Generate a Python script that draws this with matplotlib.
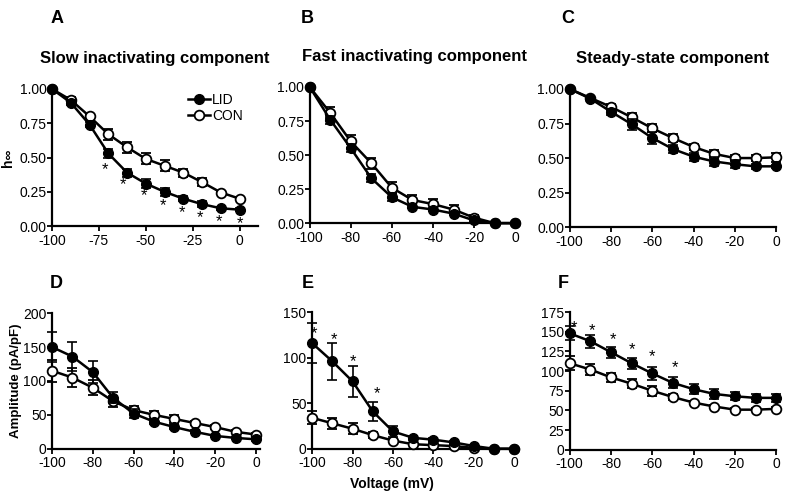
import matplotlib.pyplot as plt
from matplotlib.lines import Line2D

plt.rcParams['font.family'] = ['Liberation Sans', 'DejaVu Sans']
plt.rcParams['axes.unicode_minus'] = False

voltage = [-100, -90, -80, -70, -60, -50, -40, -30, -20, -10, 0]

# A - slow inactivating component
a_lid = [1.00, 0.90, 0.74, 0.53, 0.39, 0.31, 0.25, 0.20, 0.16, 0.13, 0.12]
a_lid_err = [0.0, 0.02, 0.02, 0.03, 0.03, 0.03, 0.03, 0.02, 0.02, 0.01, 0.01]
a_con = [1.00, 0.92, 0.80, 0.67, 0.575, 0.49, 0.44, 0.39, 0.32, 0.245, 0.20]
a_con_err = [0.0, 0.02, 0.02, 0.04, 0.04, 0.04, 0.04, 0.03, 0.03, 0.01, 0.01]
a_star_x = [-72, -62, -51, -41, -31, -21, -11, 0]
a_star_y = [0.41, 0.30, 0.22, 0.15, 0.10, 0.06, 0.03, 0.02]

# B - fast inactivating component
b_lid = [1.00, 0.76, 0.55, 0.33, 0.19, 0.12, 0.10, 0.07, 0.02, 0.00, 0.00]
b_lid_err = [0.0, 0.03, 0.03, 0.03, 0.03, 0.01, 0.01, 0.01, 0.01, 0.0, 0.0]
b_con = [1.00, 0.81, 0.60, 0.44, 0.26, 0.17, 0.14, 0.10, 0.04, 0.00, 0.00]
b_con_err = [0.0, 0.04, 0.05, 0.04, 0.04, 0.04, 0.04, 0.03, 0.02, 0.0, 0.0]

# C - steady-state component
c_lid = [1.00, 0.93, 0.835, 0.745, 0.645, 0.565, 0.51, 0.475, 0.455, 0.44, 0.44]
c_lid_err = [0.0, 0.01, 0.02, 0.04, 0.04, 0.03, 0.03, 0.03, 0.03, 0.02, 0.01]
c_con = [1.00, 0.935, 0.87, 0.795, 0.715, 0.645, 0.58, 0.53, 0.50, 0.50, 0.505]
c_con_err = [0.0, 0.01, 0.02, 0.03, 0.03, 0.03, 0.02, 0.03, 0.02, 0.02, 0.03]

# D - amplitude, slow
d_lid = [150, 136, 113, 75, 52, 40, 32, 25, 19, 16, 14]
d_lid_err = [22, 21, 16, 8, 6, 3, 3, 2, 2, 2, 2]
d_con = [115, 105, 90, 70, 57, 50, 44, 38, 32, 25, 21]
d_con_err = [16, 14, 11, 8, 6, 6, 6, 3, 3, 2, 2]

# E - amplitude, fast
e_lid = [116, 96, 74, 41, 19, 12, 10, 7, 3, 0, 0]
e_lid_err = [22, 20, 17, 10, 6, 2, 2, 2, 1, 0, 0]
e_con = [34, 28, 22, 15, 9, 5, 4, 3, 1, 0, 0]
e_con_err = [7, 6, 6, 3, 2, 1, 1, 1, 1, 0, 0]
e_star_x = [-99, -89, -80, -68]
e_star_y = [126, 120, 96, 61]

# F - amplitude, steady-state
f_lid = [148, 138, 124, 110, 97, 85, 77, 71, 68, 66, 66]
f_lid_err = [9, 8, 7, 7, 8, 7, 6, 6, 5, 5, 5]
f_con = [110, 102, 92, 84, 75, 67, 60, 55, 51, 51, 52]
f_con_err = [9, 7, 6, 6, 6, 4, 2, 2, 2, 2, 2]
f_star_x = [-98, -89, -79, -70, -60, -49]
f_star_y = [155, 151, 140, 127, 119, 105]


def panel(ax, lid, lid_err, con, con_err, xlim, ylim, yticks, xticks):
    ax.errorbar(voltage, con, yerr=con_err, color='black', marker='o', mfc='white',
                mec='black', mew=1.3, ms=7, lw=1.8, capsize=3.5, elinewidth=1.2,
                capthick=1.2, clip_on=False, zorder=3)
    ax.errorbar(voltage, lid, yerr=lid_err, color='black', marker='o', mfc='black',
                mec='black', ms=7, lw=1.8, capsize=3.5, elinewidth=1.2,
                capthick=1.2, clip_on=False, zorder=4)
    ax.set_xlim(*xlim)
    ax.set_ylim(*ylim)
    ax.set_yticks(yticks)
    ax.set_xticks(xticks)
    for s in ['top', 'right']:
        ax.spines[s].set_visible(False)
    for s in ['left', 'bottom']:
        ax.spines[s].set_linewidth(1.6)
    ax.tick_params(direction='out', length=3.5, width=1.3, labelsize=10)
    ax.tick_params(axis='x', pad=2)
    ax.tick_params(axis='y', pad=0.5)


fig = plt.figure(figsize=(7.88, 4.97), dpi=100)

W = 0.262
axA = fig.add_axes([0.066, 0.545, W, 0.276])
axB = fig.add_axes([0.393, 0.551, 0.266, 0.274])
axC = fig.add_axes([0.723, 0.543, W, 0.278])
axD = fig.add_axes([0.066, 0.097, 0.264, 0.273])
axE = fig.add_axes([0.396, 0.097, 0.262, 0.275])
axF = fig.add_axes([0.723, 0.095, W, 0.277])

xt20 = [-100, -80, -60, -40, -20, 0]
h_ticks = [0, 0.25, 0.5, 0.75, 1.0]
h_labels = ['0.00', '0.25', '0.50', '0.75', '1.00']
panel(axA, a_lid, a_lid_err, a_con, a_con_err, (-100, 10), (0, 1.0),
      h_ticks, [-100, -75, -50, -25, 0])
axA.set_yticklabels(h_labels)
panel(axB, b_lid, b_lid_err, b_con, b_con_err, (-100, 2), (0, 1.0),
      h_ticks, xt20)
axB.set_yticklabels(h_labels)
panel(axC, c_lid, c_lid_err, c_con, c_con_err, (-100, 0), (0, 1.0),
      h_ticks, xt20)
axC.set_yticklabels(h_labels)
panel(axD, d_lid, d_lid_err, d_con, d_con_err, (-100, 2), (0, 200),
      [0, 50, 100, 150, 200], xt20)
panel(axE, e_lid, e_lid_err, e_con, e_con_err, (-100, 2), (0, 150),
      [0, 50, 100, 150], xt20)
panel(axF, f_lid, f_lid_err, f_con, f_con_err, (-100, 0), (0, 175),
      [0, 25, 50, 75, 100, 125, 150, 175], xt20)

# significance stars
for ax, xs, ys in [(axA, a_star_x, a_star_y), (axE, e_star_x, e_star_y),
                   (axF, f_star_x, f_star_y)]:
    for x, y in zip(xs, ys):
        ax.text(x, y, '*', ha='center', va='center', fontsize=12)

# legend in A
handles = [Line2D([], [], color='black', lw=1.8, marker='o', mfc='black', ms=7),
           Line2D([], [], color='black', lw=1.8, marker='o', mfc='white', mew=1.3, ms=7)]
axA.legend(handles, ['LID', 'CON'], loc='upper right', bbox_to_anchor=(0.97, 1.04),
           frameon=False, fontsize=10, handlelength=1.6, handletextpad=0.1,
           borderpad=0.2, labelspacing=0.15)

# titles and labels
titles = [(axA, 'Slow inactivating component'),
          (axB, 'Fast inactivating component'),
          (axC, 'Steady-state component')]
for ax, t in titles:
    ax.set_title(t, fontsize=12, fontweight='bold', pad=19)

letters = [(0.072, 0.963, 'A'), (0.390, 0.963, 'B'), (0.720, 0.963, 'C'),
           (0.072, 0.430, 'D'), (0.390, 0.430, 'E'), (0.715, 0.430, 'F')]
for x, y, s in letters:
    fig.text(x, y, s, fontsize=13, fontweight='bold', ha='center', va='center')

axA.set_ylabel('h\u221e', fontsize=10, fontweight='bold')
axA.yaxis.set_label_coords(-0.18, 0.5)
axD.set_ylabel('Amplitude (pA/pF)', fontsize=9.5, fontweight='bold')
axD.yaxis.set_label_coords(-0.145, 0.5)
fig.text(0.497, 0.018, 'Voltage (mV)', fontsize=10, fontweight='bold', ha='center')

fig.savefig('out.png', dpi=100)
